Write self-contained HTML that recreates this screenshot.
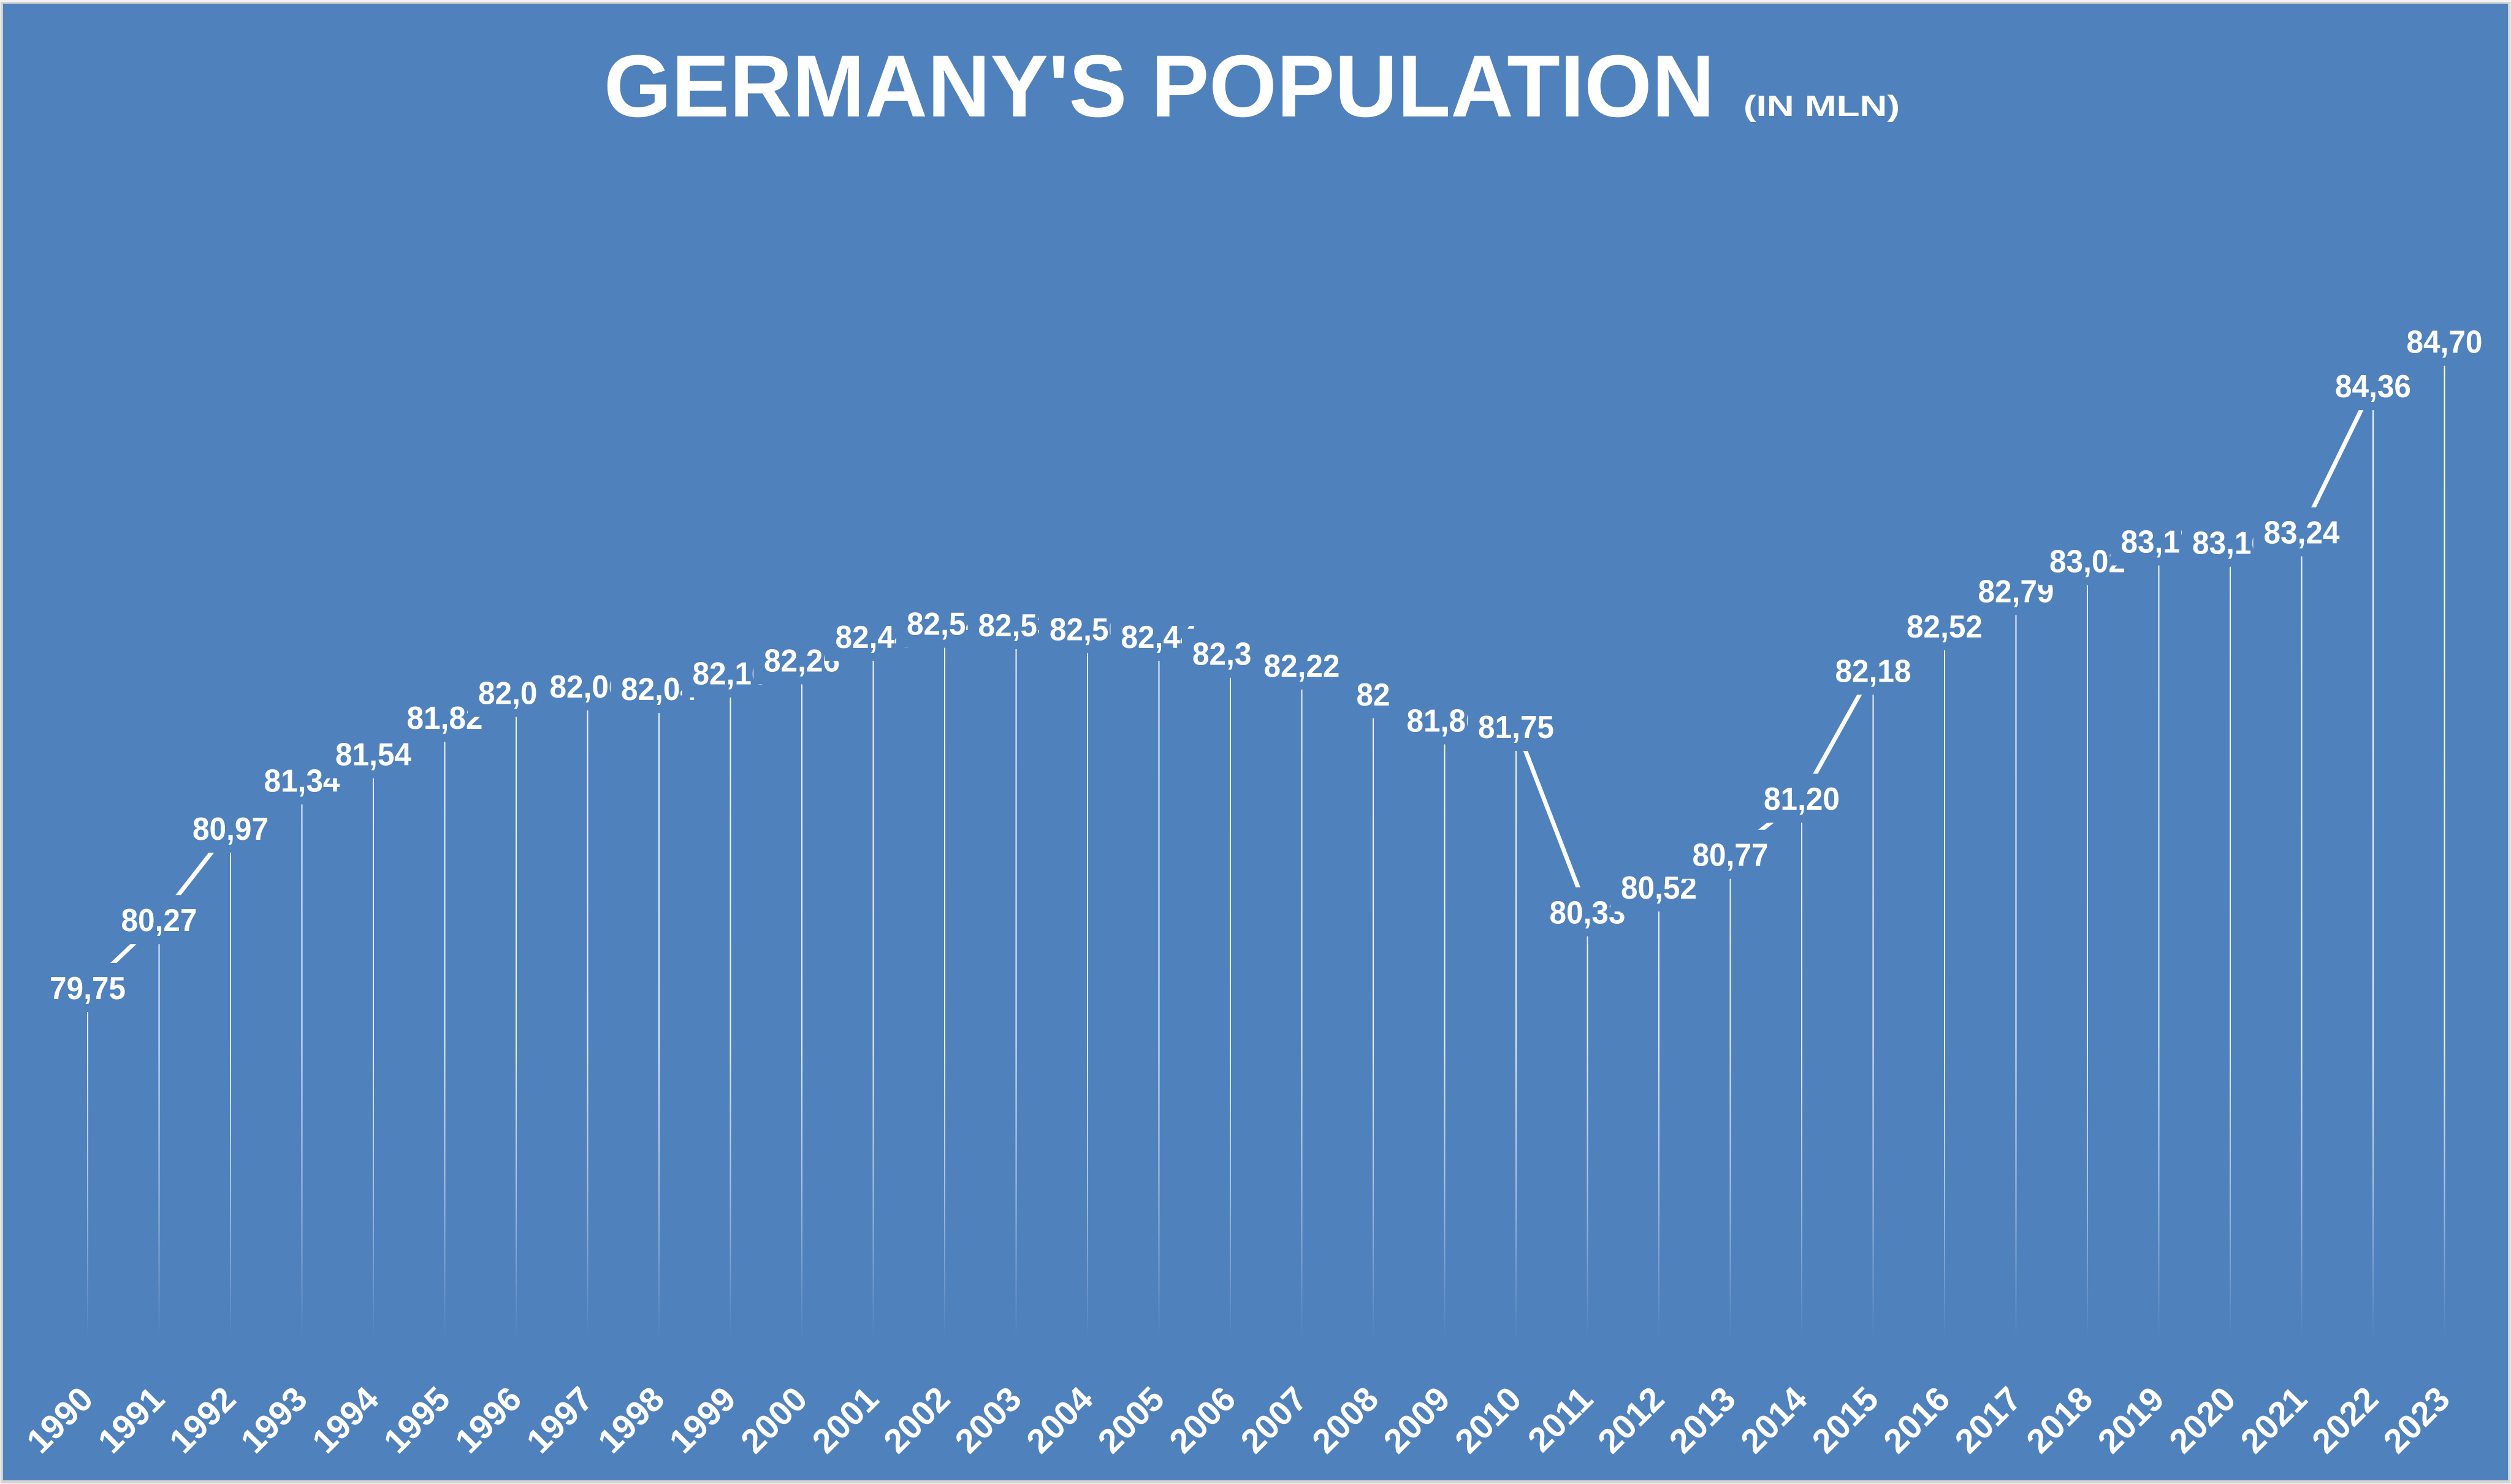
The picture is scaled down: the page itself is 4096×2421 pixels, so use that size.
<!DOCTYPE html>
<html>
<head>
<meta charset="utf-8">
<style>
html,body{margin:0;padding:0;background:#ffffff;}
.wrap{position:relative;width:4096px;height:2421px;overflow:hidden;background:#ffffff;}
svg{position:absolute;left:0;top:0;}
</style>
</head>
<body>
<div class="wrap">
<svg width="4096" height="2421" viewBox="0 0 4096 2421" xmlns="http://www.w3.org/2000/svg">
  <defs>
    <linearGradient id="g" gradientUnits="userSpaceOnUse" x1="0" y1="550" x2="0" y2="2185">
      <stop offset="0" stop-color="#ffffff" stop-opacity="0.95"/>
      <stop offset="0.7" stop-color="#ffffff" stop-opacity="0.88"/>
      <stop offset="0.85" stop-color="#ffffff" stop-opacity="0.5"/>
      <stop offset="1" stop-color="#ffffff" stop-opacity="0"/>
    </linearGradient>
  </defs>
  <rect x="0" y="0" width="4096" height="2421" fill="#f2f2f2"/>
  <rect x="1" y="3" width="4094" height="2417" fill="#d4d4d4"/>
  <rect x="5" y="6" width="4086" height="2409" fill="#4f81bd"/>

  <!-- Title -->
  <g fill="#ffffff" font-family="'Liberation Sans', Arial, sans-serif" font-weight="bold">
    <text x="985" y="190" font-size="144" textLength="1812" lengthAdjust="spacingAndGlyphs">GERMANY'S POPULATION</text>
    <text x="2844" y="189" font-size="47" textLength="255" lengthAdjust="spacingAndGlyphs">(IN MLN)</text>
  </g>

  <!-- Drop lines -->
  <path stroke="url(#g)" stroke-width="2" fill="none" d="M143 1611V2185 M259.5 1500V2185 M376 1351V2185 M492.5 1272V2185 M609 1230V2185 M725.5 1170V2185 M842 1130V2185 M958.5 1119V2185 M1075 1123V2185 M1191.5 1098V2185 M1308 1076V2185 M1424.5 1038V2185 M1541 1017V2185 M1657.5 1019V2185 M1774 1025V2185 M1890.5 1038V2185 M2007 1066V2185 M2123.5 1085V2185 M2240 1132V2185 M2356.5 1174V2185 M2473 1185V2185 M2589.5 1488V2185 M2706 1447V2185 M2822.5 1394V2185 M2939 1302V2185 M3055.5 1093V2185 M3172 1021V2185 M3288.5 964V2185 M3405 915V2185 M3521.5 883V2185 M3638 885V2185 M3754.5 868V2185 M3871 629V2185 M3987.5 557V2185"/>

  <!-- Series line -->
  <polyline fill="none" stroke="#ffffff" stroke-width="7" stroke-linejoin="round" points="143,1611 259.5,1500.2 376,1351.1 492.5,1272.3 609,1229.7 725.5,1170.1 842,1129.6 958.5,1119 1075,1123.2 1191.5,1097.7 1308,1076.4 1424.5,1038 1541,1016.7 1657.5,1018.9 1774,1025.3 1890.5,1038 2007,1065.7 2123.5,1084.9 2240,1131.8 2356.5,1174.4 2473,1185 2589.5,1487.5 2706,1447 2822.5,1393.7 2939,1302.2 3055.5,1093.4 3172,1021 3288.5,963.5 3405,914.5 3521.5,882.5 3638,884.7 3754.5,867.6 3871,629.1 3987.5,556.7"/>

  <!-- Data labels -->
  <g font-family="'Liberation Sans', Arial, sans-serif" font-weight="bold" font-size="52" text-anchor="middle">
    <rect x="64" y="1571" width="158" height="80" fill="#4f81bd"/><text x="143" y="1630" fill="#fff" textLength="124" lengthAdjust="spacingAndGlyphs">79,75</text>
    <rect x="180.5" y="1460.2" width="158" height="80" fill="#4f81bd"/><text x="259.5" y="1519.2" fill="#fff" textLength="124" lengthAdjust="spacingAndGlyphs">80,27</text>
    <rect x="297" y="1311.1" width="158" height="80" fill="#4f81bd"/><text x="376" y="1370.1" fill="#fff" textLength="124" lengthAdjust="spacingAndGlyphs">80,97</text>
    <rect x="413.5" y="1232.3" width="158" height="80" fill="#4f81bd"/><text x="492.5" y="1291.3" fill="#fff" textLength="124" lengthAdjust="spacingAndGlyphs">81,34</text>
    <rect x="530" y="1189.7" width="158" height="80" fill="#4f81bd"/><text x="609" y="1248.7" fill="#fff" textLength="124" lengthAdjust="spacingAndGlyphs">81,54</text>
    <rect x="646.5" y="1130.1" width="158" height="80" fill="#4f81bd"/><text x="725.5" y="1189.1" fill="#fff" textLength="124" lengthAdjust="spacingAndGlyphs">81,82</text>
    <rect x="763" y="1089.6" width="158" height="80" fill="#4f81bd"/><text x="842" y="1148.6" fill="#fff" textLength="124" lengthAdjust="spacingAndGlyphs">82,01</text>
    <rect x="879.5" y="1079" width="158" height="80" fill="#4f81bd"/><text x="958.5" y="1138" fill="#fff" textLength="124" lengthAdjust="spacingAndGlyphs">82,06</text>
    <rect x="996" y="1083.2" width="158" height="80" fill="#4f81bd"/><text x="1075" y="1142.2" fill="#fff" textLength="124" lengthAdjust="spacingAndGlyphs">82,04</text>
    <rect x="1112.5" y="1057.7" width="158" height="80" fill="#4f81bd"/><text x="1191.5" y="1116.7" fill="#fff" textLength="124" lengthAdjust="spacingAndGlyphs">82,16</text>
    <rect x="1229" y="1036.4" width="158" height="80" fill="#4f81bd"/><text x="1308" y="1095.4" fill="#fff" textLength="124" lengthAdjust="spacingAndGlyphs">82,26</text>
    <rect x="1345.5" y="998" width="158" height="80" fill="#4f81bd"/><text x="1424.5" y="1057" fill="#fff" textLength="124" lengthAdjust="spacingAndGlyphs">82,44</text>
    <rect x="1462" y="976.7" width="158" height="80" fill="#4f81bd"/><text x="1541" y="1035.7" fill="#fff" textLength="124" lengthAdjust="spacingAndGlyphs">82,54</text>
    <rect x="1578.5" y="978.9" width="158" height="80" fill="#4f81bd"/><text x="1657.5" y="1037.9" fill="#fff" textLength="124" lengthAdjust="spacingAndGlyphs">82,53</text>
    <rect x="1695" y="985.3" width="158" height="80" fill="#4f81bd"/><text x="1774" y="1044.3" fill="#fff" textLength="124" lengthAdjust="spacingAndGlyphs">82,50</text>
    <rect x="1811.5" y="998" width="158" height="80" fill="#4f81bd"/><text x="1890.5" y="1057" fill="#fff" textLength="124" lengthAdjust="spacingAndGlyphs">82,44</text>
    <rect x="1928" y="1025.7" width="158" height="80" fill="#4f81bd"/><text x="2007" y="1084.7" fill="#fff" textLength="124" lengthAdjust="spacingAndGlyphs">82,31</text>
    <rect x="2044.5" y="1044.9" width="158" height="80" fill="#4f81bd"/><text x="2123.5" y="1103.9" fill="#fff" textLength="124" lengthAdjust="spacingAndGlyphs">82,22</text>
    <rect x="2195" y="1091.8" width="90" height="80" fill="#4f81bd"/><text x="2240" y="1150.8" fill="#fff" textLength="55" lengthAdjust="spacingAndGlyphs">82</text>
    <rect x="2277.5" y="1134.4" width="158" height="80" fill="#4f81bd"/><text x="2356.5" y="1193.4" fill="#fff" textLength="124" lengthAdjust="spacingAndGlyphs">81,80</text>
    <rect x="2394" y="1145" width="158" height="80" fill="#4f81bd"/><text x="2473" y="1204" fill="#fff" textLength="124" lengthAdjust="spacingAndGlyphs">81,75</text>
    <rect x="2510.5" y="1447.5" width="158" height="80" fill="#4f81bd"/><text x="2589.5" y="1506.5" fill="#fff" textLength="124" lengthAdjust="spacingAndGlyphs">80,33</text>
    <rect x="2627" y="1407" width="158" height="80" fill="#4f81bd"/><text x="2706" y="1466" fill="#fff" textLength="124" lengthAdjust="spacingAndGlyphs">80,52</text>
    <rect x="2743.5" y="1353.7" width="158" height="80" fill="#4f81bd"/><text x="2822.5" y="1412.7" fill="#fff" textLength="124" lengthAdjust="spacingAndGlyphs">80,77</text>
    <rect x="2860" y="1262.2" width="158" height="80" fill="#4f81bd"/><text x="2939" y="1321.2" fill="#fff" textLength="124" lengthAdjust="spacingAndGlyphs">81,20</text>
    <rect x="2976.5" y="1053.4" width="158" height="80" fill="#4f81bd"/><text x="3055.5" y="1112.4" fill="#fff" textLength="124" lengthAdjust="spacingAndGlyphs">82,18</text>
    <rect x="3093" y="981" width="158" height="80" fill="#4f81bd"/><text x="3172" y="1040" fill="#fff" textLength="124" lengthAdjust="spacingAndGlyphs">82,52</text>
    <rect x="3209.5" y="923.5" width="158" height="80" fill="#4f81bd"/><text x="3288.5" y="982.5" fill="#fff" textLength="124" lengthAdjust="spacingAndGlyphs">82,79</text>
    <rect x="3326" y="874.5" width="158" height="80" fill="#4f81bd"/><text x="3405" y="933.5" fill="#fff" textLength="124" lengthAdjust="spacingAndGlyphs">83,02</text>
    <rect x="3442.5" y="842.5" width="158" height="80" fill="#4f81bd"/><text x="3521.5" y="901.5" fill="#fff" textLength="124" lengthAdjust="spacingAndGlyphs">83,17</text>
    <rect x="3559" y="844.7" width="158" height="80" fill="#4f81bd"/><text x="3638" y="903.7" fill="#fff" textLength="124" lengthAdjust="spacingAndGlyphs">83,16</text>
    <rect x="3675.5" y="827.6" width="158" height="80" fill="#4f81bd"/><text x="3754.5" y="886.6" fill="#fff" textLength="124" lengthAdjust="spacingAndGlyphs">83,24</text>
    <rect x="3792" y="589.1" width="158" height="80" fill="#4f81bd"/><text x="3871" y="648.1" fill="#fff" textLength="124" lengthAdjust="spacingAndGlyphs">84,36</text>
    <rect x="3908.5" y="516.7" width="158" height="80" fill="#4f81bd"/><text x="3987.5" y="575.7" fill="#fff" textLength="124" lengthAdjust="spacingAndGlyphs">84,70</text>
  </g>

  <!-- Category labels -->
  <g fill="#ffffff" font-family="'Liberation Sans', Arial, sans-serif" font-weight="bold" font-size="56" text-anchor="end">
    <text transform="translate(155,2286) rotate(-45)">1990</text>
    <text transform="translate(271.5,2286) rotate(-45)">1991</text>
    <text transform="translate(388,2286) rotate(-45)">1992</text>
    <text transform="translate(504.5,2286) rotate(-45)">1993</text>
    <text transform="translate(621,2286) rotate(-45)">1994</text>
    <text transform="translate(737.5,2286) rotate(-45)">1995</text>
    <text transform="translate(854,2286) rotate(-45)">1996</text>
    <text transform="translate(970.5,2286) rotate(-45)">1997</text>
    <text transform="translate(1087,2286) rotate(-45)">1998</text>
    <text transform="translate(1203.5,2286) rotate(-45)">1999</text>
    <text transform="translate(1320,2286) rotate(-45)">2000</text>
    <text transform="translate(1436.5,2286) rotate(-45)">2001</text>
    <text transform="translate(1553,2286) rotate(-45)">2002</text>
    <text transform="translate(1669.5,2286) rotate(-45)">2003</text>
    <text transform="translate(1786,2286) rotate(-45)">2004</text>
    <text transform="translate(1902.5,2286) rotate(-45)">2005</text>
    <text transform="translate(2019,2286) rotate(-45)">2006</text>
    <text transform="translate(2135.5,2286) rotate(-45)">2007</text>
    <text transform="translate(2252,2286) rotate(-45)">2008</text>
    <text transform="translate(2368.5,2286) rotate(-45)">2009</text>
    <text transform="translate(2485,2286) rotate(-45)">2010</text>
    <text transform="translate(2601.5,2286) rotate(-45)">2011</text>
    <text transform="translate(2718,2286) rotate(-45)">2012</text>
    <text transform="translate(2834.5,2286) rotate(-45)">2013</text>
    <text transform="translate(2951,2286) rotate(-45)">2014</text>
    <text transform="translate(3067.5,2286) rotate(-45)">2015</text>
    <text transform="translate(3184,2286) rotate(-45)">2016</text>
    <text transform="translate(3300.5,2286) rotate(-45)">2017</text>
    <text transform="translate(3417,2286) rotate(-45)">2018</text>
    <text transform="translate(3533.5,2286) rotate(-45)">2019</text>
    <text transform="translate(3650,2286) rotate(-45)">2020</text>
    <text transform="translate(3766.5,2286) rotate(-45)">2021</text>
    <text transform="translate(3883,2286) rotate(-45)">2022</text>
    <text transform="translate(3999.5,2286) rotate(-45)">2023</text>
  </g>
</svg>
</div>
</body>
</html>
